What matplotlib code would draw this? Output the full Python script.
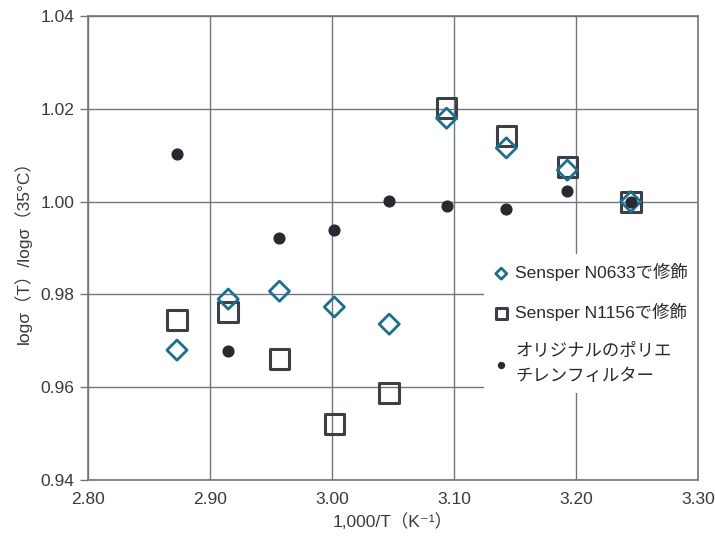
import matplotlib
matplotlib.use("Agg")
import matplotlib.pyplot as plt

# 1,000/T for 75 .. 35 degC
inv_t = [2.873, 2.915, 2.957, 3.002, 3.047, 3.094, 3.143, 3.193, 3.245]

n0633 = [0.968, 0.979, 0.9807, 0.9773, 0.9736, 1.018, 1.0116, 1.0068, 1.000]
n1156 = [0.9745, 0.9762, 0.9661, 0.9521, 0.9588, 1.0202, 1.0141, 1.0075, 1.000]
original = [1.0103, 0.9678, 0.9922, 0.9939, 1.0001, 0.9991, 0.9984, 1.0023, 1.000]

labels = ["Sensper N0633で修飾", "Sensper N1156で修飾", "オリジナルのポリエ\nチレンフィルター"]

xticks = [2.80, 2.90, 3.00, 3.10, 3.20, 3.30]
yticks = [0.94, 0.96, 0.98, 1.00, 1.02, 1.04]

plt.rcParams['font.family'] = ['Liberation Sans', 'Noto Sans CJK JP', 'DejaVu Sans']

teal = "#1d6f8a"
dark = "#3b4046"
grid_c = "#70767c"
txt_c = "#3a3a3a"

fig = plt.figure(figsize=(7.15, 5.39), dpi=100)
ax = fig.add_axes([0.123, 0.1095, 0.853, 0.8605])

ax.scatter(inv_t, n1156, marker='s', s=200, facecolors='none', edgecolors=dark,
           linewidths=2.2, zorder=3, label=labels[1])
ax.scatter(inv_t, n0633, marker='D', s=105, facecolors='none', edgecolors=teal,
           linewidths=2.0, zorder=4, label=labels[0])
ax.scatter(inv_t, original, marker='o', s=60, color="#272b31", zorder=5, label=labels[2])

ax.set_xlim(2.80, 3.30)
ax.set_ylim(0.94, 1.04)
ax.set_xticks(xticks)
ax.set_yticks(yticks)
ax.set_xticklabels([f"{v:.2f}" for v in xticks])
ax.set_yticklabels([f"{v:.2f}" for v in yticks])
ax.tick_params(axis='x', length=0, pad=9, labelsize=12.5, colors=txt_c)
ax.tick_params(axis='y', length=6, width=1, color=grid_c, pad=4, labelsize=12.5,
               labelcolor=txt_c)
ax.grid(True, color=grid_c, linewidth=1.0)
ax.set_axisbelow(True)
for sp in ax.spines.values():
    sp.set_color(grid_c)
    sp.set_linewidth(1.2)

ax.set_xlabel("1,000/T（K⁻¹）", fontsize=12.5, color=txt_c, labelpad=4)
ax.set_ylabel("logσ（T）/logσ（35°C）", fontsize=12.5, color=txt_c, labelpad=6)

h, l = ax.get_legend_handles_labels()
order = [1, 0, 2]
leg = ax.legend([h[i] for i in order], [l[i] for i in order],
                loc='upper left', bbox_to_anchor=(0.635, 0.505), frameon=True,
                fontsize=12.5, handletextpad=0.3, labelspacing=1.25,
                borderpad=0.5, handlelength=1.0, markerscale=0.55)
leg.get_texts()[2].set_linespacing(1.8)
for t in leg.get_texts():
    t.set_color("#2a2a2a")
leg.get_frame().set_edgecolor('none')
leg.get_frame().set_facecolor('white')
leg.get_frame().set_alpha(1.0)
leg.get_frame().set_boxstyle('square', pad=0)

fig.savefig("out.png", dpi=100)
